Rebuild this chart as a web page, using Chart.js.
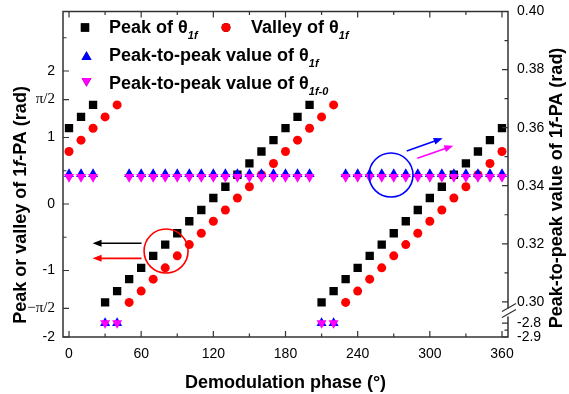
<!DOCTYPE html>
<html>
<head>
<meta charset="utf-8">
<script src="https://cdn.jsdelivr.net/npm/chart.js@4.4.0/dist/chart.umd.min.js"></script>
<style>
html, body { margin: 0; padding: 0; background: #fff; }
#wrap { width: 569px; height: 394px; }
</style>
</head>
<body>
<div id="wrap"><canvas id="chart" width="569" height="394"></canvas></div>
<script>
const phase = [0, 10, 20, 30, 40, 50, 60, 70, 80, 90, 100, 110, 120, 130, 140, 150, 160, 170, 180,
    190, 200, 210, 220, 230, 240, 250, 260, 270, 280, 290, 300, 310, 320, 330, 340, 350, 360];
const peak = [1.14, 1.31, 1.49, -1.48, -1.31, -1.13, -0.96, -0.78, -0.61, -0.44, -0.26, -0.09, 0.09,
    0.26, 0.44, 0.61, 0.79, 0.96, 1.14, 1.31, 1.49, -1.48, -1.31, -1.13, -0.96, -0.78, -0.61, -0.44,
    -0.26, -0.09, 0.09, 0.26, 0.44, 0.61, 0.79, 0.96, 1.14];
const valley = [0.79, 0.96, 1.14, 1.31, 1.49, -1.48, -1.31, -1.13, -0.96, -0.78, -0.61, -0.44, -0.26,
    -0.09, 0.09, 0.26, 0.44, 0.61, 0.79, 0.96, 1.14, 1.31, 1.49, -1.48, -1.31, -1.13, -0.96, -0.78,
    -0.61, -0.44, -0.26, -0.09, 0.09, 0.26, 0.44, 0.61, 0.79];
const p2p1f = [0.344, 0.344, 0.344, -2.80, -2.80, 0.344, 0.344, 0.344, 0.344, 0.344, 0.344, 0.344,
    0.344, 0.344, 0.344, 0.344, 0.344, 0.344, 0.344, 0.344, 0.344, -2.80, -2.80, 0.344, 0.344, 0.344,
    0.344, 0.344, 0.344, 0.344, 0.344, 0.344, 0.344, 0.344, 0.344, 0.344, 0.344];
const p2p1f0 = [0.343, 0.343, 0.343, -2.80, -2.80, 0.343, 0.343, 0.343, 0.343, 0.343, 0.343, 0.343,
    0.343, 0.343, 0.343, 0.343, 0.343, 0.343, 0.343, 0.343, 0.343, -2.80, -2.80, 0.343, 0.343, 0.343,
    0.343, 0.343, 0.343, 0.343, 0.343, 0.343, 0.343, 0.343, 0.343, 0.343, 0.343];

const xTicks = [0, 60, 120, 180, 240, 300, 360];
const xMinor = [30, 90, 150, 210, 270, 330];
const leftTicks = [-2, -Math.PI / 2, -1, 0, 1, Math.PI / 2, 2];
const leftMinor = [-0.5, 0.5, 2.5];
const rightTicks = [0.30, 0.32, 0.34, 0.36, 0.38, 0.40];
const rightMinor = [0.31, 0.33, 0.35, 0.37, 0.39];
const rightLowTicks = [-2.9, -2.8];
const rightLowMinor = [-2.85];

// right axis is broken: values below the break are squeezed into the bottom strip
const BRK_BASE = 0.2879;
const BRK_SLOPE = 0.048;
function brk(v) {
    return v > 0 ? v : BRK_BASE + (v + 2.9) * BRK_SLOPE;
}
function unbrk(v) {
    return v > 0.299 ? v : (v - BRK_BASE) / BRK_SLOPE - 2.9;
}

const FONT = '"Liberation Sans", Arial, sans-serif';
const AXIS_COLOR = '#333';

function pts(ys, map) {
    return phase.map((x, i) => ({ x: x, y: map ? map(ys[i]) : ys[i] }));
}

function drawRuns(ctx, runs, x, y, align) {
    let w = 0;
    runs.forEach(r => { ctx.font = r.font; w += ctx.measureText(r.t).width; });
    let cx = align === 'center' ? x - w / 2 : x;
    ctx.fillStyle = '#000';
    ctx.textAlign = 'left';
    ctx.textBaseline = 'alphabetic';
    runs.forEach(r => {
        ctx.font = r.font;
        ctx.fillText(r.t, cx, y + (r.dy || 0));
        cx += ctx.measureText(r.t).width;
    });
}

function marker(ctx, style, color, x, y, r, rot) {
    Chart.helpers.drawPoint(ctx, { pointStyle: style, rotation: rot || 0, radius: r, borderWidth: 0 }, x, y);
    ctx.fillStyle = color;
    ctx.fill();
}

function arrow(ctx, x1, y1, x2, y2, color) {
    const a = Math.atan2(y2 - y1, x2 - x1);
    ctx.strokeStyle = color;
    ctx.fillStyle = color;
    ctx.lineWidth = 1.6;
    ctx.beginPath();
    ctx.moveTo(x1, y1);
    ctx.lineTo(x2 - 6 * Math.cos(a), y2 - 6 * Math.sin(a));
    ctx.stroke();
    ctx.beginPath();
    ctx.moveTo(x2, y2);
    ctx.lineTo(x2 - 9 * Math.cos(a) + 3.5 * Math.sin(a), y2 - 9 * Math.sin(a) - 3.5 * Math.cos(a));
    ctx.lineTo(x2 - 9 * Math.cos(a) - 3.5 * Math.sin(a), y2 - 9 * Math.sin(a) + 3.5 * Math.cos(a));
    ctx.closePath();
    ctx.fill();
}

const decor = {
    id: 'decor',
    afterDraw(chart) {
        const ctx = chart.ctx;
        const a = chart.chartArea;
        const sx = chart.scales.x, sy = chart.scales.y, sr = chart.scales.y2;
        ctx.save();

        // frame
        ctx.strokeStyle = AXIS_COLOR;
        ctx.lineWidth = 1.5;
        ctx.strokeRect(a.left, a.top, a.right - a.left, a.bottom - a.top);

        // inward tick marks
        ctx.lineWidth = 1.2;
        ctx.beginPath();
        const tick = (x1, y1, x2, y2) => { ctx.moveTo(x1, y1); ctx.lineTo(x2, y2); };
        xTicks.forEach(v => {
            const px = sx.getPixelForValue(v);
            tick(px, a.bottom, px, a.bottom - 6);
            tick(px, a.top, px, a.top + 6);
        });
        xMinor.forEach(v => {
            const px = sx.getPixelForValue(v);
            tick(px, a.bottom, px, a.bottom - 3.5);
            tick(px, a.top, px, a.top + 3.5);
        });
        leftTicks.forEach(v => { const py = sy.getPixelForValue(v); tick(a.left, py, a.left + 6, py); });
        leftMinor.forEach(v => { const py = sy.getPixelForValue(v); tick(a.left, py, a.left + 3.5, py); });
        rightTicks.concat(rightLowTicks).forEach(v => {
            const py = sr.getPixelForValue(brk(v)); tick(a.right, py, a.right - 6, py);
        });
        rightMinor.concat(rightLowMinor).forEach(v => {
            const py = sr.getPixelForValue(brk(v)); tick(a.right, py, a.right - 3.5, py);
        });
        ctx.stroke();

        // axis break on right axis
        const yb = (sr.getPixelForValue(0.30) + sr.getPixelForValue(brk(-2.8))) / 2;
        ctx.fillStyle = '#fff';
        ctx.fillRect(a.right - 2, yb - 4, 4, 8);
        ctx.strokeStyle = AXIS_COLOR;
        ctx.lineWidth = 1.2;
        ctx.beginPath();
        tick(a.right - 6, yb - 1, a.right + 8, yb - 9);
        tick(a.right - 6, yb + 5, a.right + 8, yb - 3);
        ctx.stroke();

        // axis titles
        const b18 = 'bold 18px ' + FONT;
        const bi18 = 'italic bold 18px ' + FONT;
        drawRuns(ctx, [{ t: 'Demodulation phase (°)', font: b18 }], (a.left + a.right) / 2, 388, 'center');
        ctx.save();
        ctx.translate(26, 205);
        ctx.rotate(-Math.PI / 2);
        drawRuns(ctx, [{ t: 'Peak or valley of 1', font: b18 }, { t: 'f', font: bi18 },
            { t: '-PA (rad)', font: b18 }], 0, 0, 'center');
        ctx.restore();
        ctx.save();
        ctx.translate(562, 188);
        ctx.rotate(-Math.PI / 2);
        drawRuns(ctx, [{ t: 'Peak-to-peak value of 1', font: b18 }, { t: 'f', font: bi18 },
            { t: '-PA (rad)', font: b18 }], 0, 0, 'center');
        ctx.restore();

        // legend
        const sub = 'italic bold 11px ' + FONT;
        marker(ctx, 'rect', '#000', 85, 27.5, 5.9);
        drawRuns(ctx, [{ t: 'Peak of θ', font: b18 }, { t: '1f', font: sub, dy: 6 }], 109, 33, 'left');
        marker(ctx, 'circle', '#ff0000', 226, 27.5, 4.5);
        drawRuns(ctx, [{ t: 'Valley of θ', font: b18 }, { t: '1f', font: sub, dy: 6 }], 251, 33, 'left');
        marker(ctx, 'triangle', '#0000ff', 86.5, 57, 5.8);
        drawRuns(ctx, [{ t: 'Peak-to-peak value of θ', font: b18 }, { t: '1f', font: sub, dy: 6 }], 109, 61, 'left');
        marker(ctx, 'triangle', '#ff00ff', 86.5, 81, 5.8, 180);
        drawRuns(ctx, [{ t: 'Peak-to-peak value of θ', font: b18 }, { t: '1f-0', font: sub, dy: 6 }], 109, 89, 'left');

        // annotations
        ctx.lineWidth = 1.6;
        ctx.strokeStyle = '#ff0000';
        ctx.beginPath();
        ctx.arc(sx.getPixelForValue(80.7), sy.getPixelForValue(-0.707), 22, 0, Math.PI * 2);
        ctx.stroke();
        ctx.strokeStyle = '#0000ff';
        ctx.beginPath();
        ctx.arc(sx.getPixelForValue(267.7), sy.getPixelForValue(0.436), 22, 0, Math.PI * 2);
        ctx.stroke();
        arrow(ctx, sx.getPixelForValue(60.3), sy.getPixelForValue(-0.59),
            sx.getPixelForValue(19.6), sy.getPixelForValue(-0.59), '#000');
        arrow(ctx, sx.getPixelForValue(60.3), sy.getPixelForValue(-0.817),
            sx.getPixelForValue(19.6), sy.getPixelForValue(-0.817), '#ff0000');
        arrow(ctx, sx.getPixelForValue(280.8), sy.getPixelForValue(0.797),
            sx.getPixelForValue(310.7), sy.getPixelForValue(0.988), '#0000ff');
        arrow(ctx, sx.getPixelForValue(289.6), sy.getPixelForValue(0.687),
            sx.getPixelForValue(319.5), sy.getPixelForValue(0.877), '#ff00ff');

        ctx.restore();
    }
};

function isHalfPi(c) {
    return c && c.tick && Math.abs(Math.abs(c.tick.value) - Math.PI / 2) < 1e-6;
}

// fixed box sizes so the plot area sits where it does in the figure
function fixY(width) {
    return s => { s.width = width; s.paddingTop = 0; s.paddingBottom = 0; };
}

const ctxMain = document.getElementById('chart').getContext('2d');
const chart = new Chart(ctxMain, {
    type: 'scatter',
    data: {
        datasets: [{
            label: 'Peak-to-peak value of θ1f-0',
            data: pts(p2p1f0, brk),
            yAxisID: 'y2',
            pointStyle: 'triangle',
            rotation: 180,
            pointRadius: 5.8,
            borderWidth: 0,
            backgroundColor: '#ff00ff',
            order: 0,
        }, {
            label: 'Peak-to-peak value of θ1f',
            data: pts(p2p1f, brk),
            yAxisID: 'y2',
            pointStyle: 'triangle',
            pointRadius: 5.8,
            borderWidth: 0,
            backgroundColor: '#0000ff',
            order: 1,
        }, {
            label: 'Valley of θ1f',
            data: pts(valley),
            yAxisID: 'y',
            pointStyle: 'circle',
            pointRadius: 4.5,
            borderWidth: 0,
            backgroundColor: '#ff0000',
            order: 2,
        }, {
            label: 'Peak of θ1f',
            data: pts(peak),
            yAxisID: 'y',
            pointStyle: 'rect',
            pointRadius: 5.9,
            borderWidth: 0,
            backgroundColor: '#000',
            order: 3,
        }],
    },
    options: {
        responsive: false,
        animation: false,
        layout: { padding: { top: 11.5, left: 0, right: 0, bottom: 0 } },
        plugins: { legend: { display: false }, tooltip: { enabled: false } },
        elements: { point: { hoverRadius: 0 } },
        scales: {
            x: {
                type: 'linear',
                min: -5,
                max: 365,
                grid: { display: false, drawTicks: false },
                border: { display: false },
                afterBuildTicks: s => { s.ticks = xTicks.map(v => ({ value: v })); },
                afterFit: s => { s.height = 57; s.paddingLeft = 0; s.paddingRight = 0; },
                ticks: { padding: 9, color: '#000', font: { family: FONT, size: 14 } },
            },
            y: {
                position: 'left',
                min: -2,
                max: 2.895,
                grid: { display: false, drawTicks: false },
                border: { display: false },
                afterBuildTicks: s => { s.ticks = leftTicks.map(v => ({ value: v })); },
                afterFit: fixY(63),
                ticks: {
                    padding: 8,
                    color: '#000',
                    font: c => isHalfPi(c)
                        ? { family: '"Liberation Serif", "Times New Roman", serif', size: 15 }
                        : { family: FONT, size: 14 },
                    callback: v => {
                        if (Math.abs(v - Math.PI / 2) < 1e-6) return 'π/2';
                        if (Math.abs(v + Math.PI / 2) < 1e-6) return '−π/2';
                        return String(v);
                    },
                },
            },
            y2: {
                position: 'right',
                min: BRK_BASE,
                max: 0.40,
                grid: { display: false, drawTicks: false },
                border: { display: false },
                afterBuildTicks: s => {
                    s.ticks = rightTicks.concat(rightLowTicks).map(v => ({ value: brk(v) }));
                },
                afterFit: fixY(61),
                ticks: {
                    padding: 9,
                    color: '#000',
                    font: { family: FONT, size: 14 },
                    callback: v => {
                        const real = unbrk(v);
                        return real > 0 ? real.toFixed(2) : real.toFixed(1);
                    },
                },
            },
        },
    },
    plugins: [decor],
});
</script>
</body>
</html>
